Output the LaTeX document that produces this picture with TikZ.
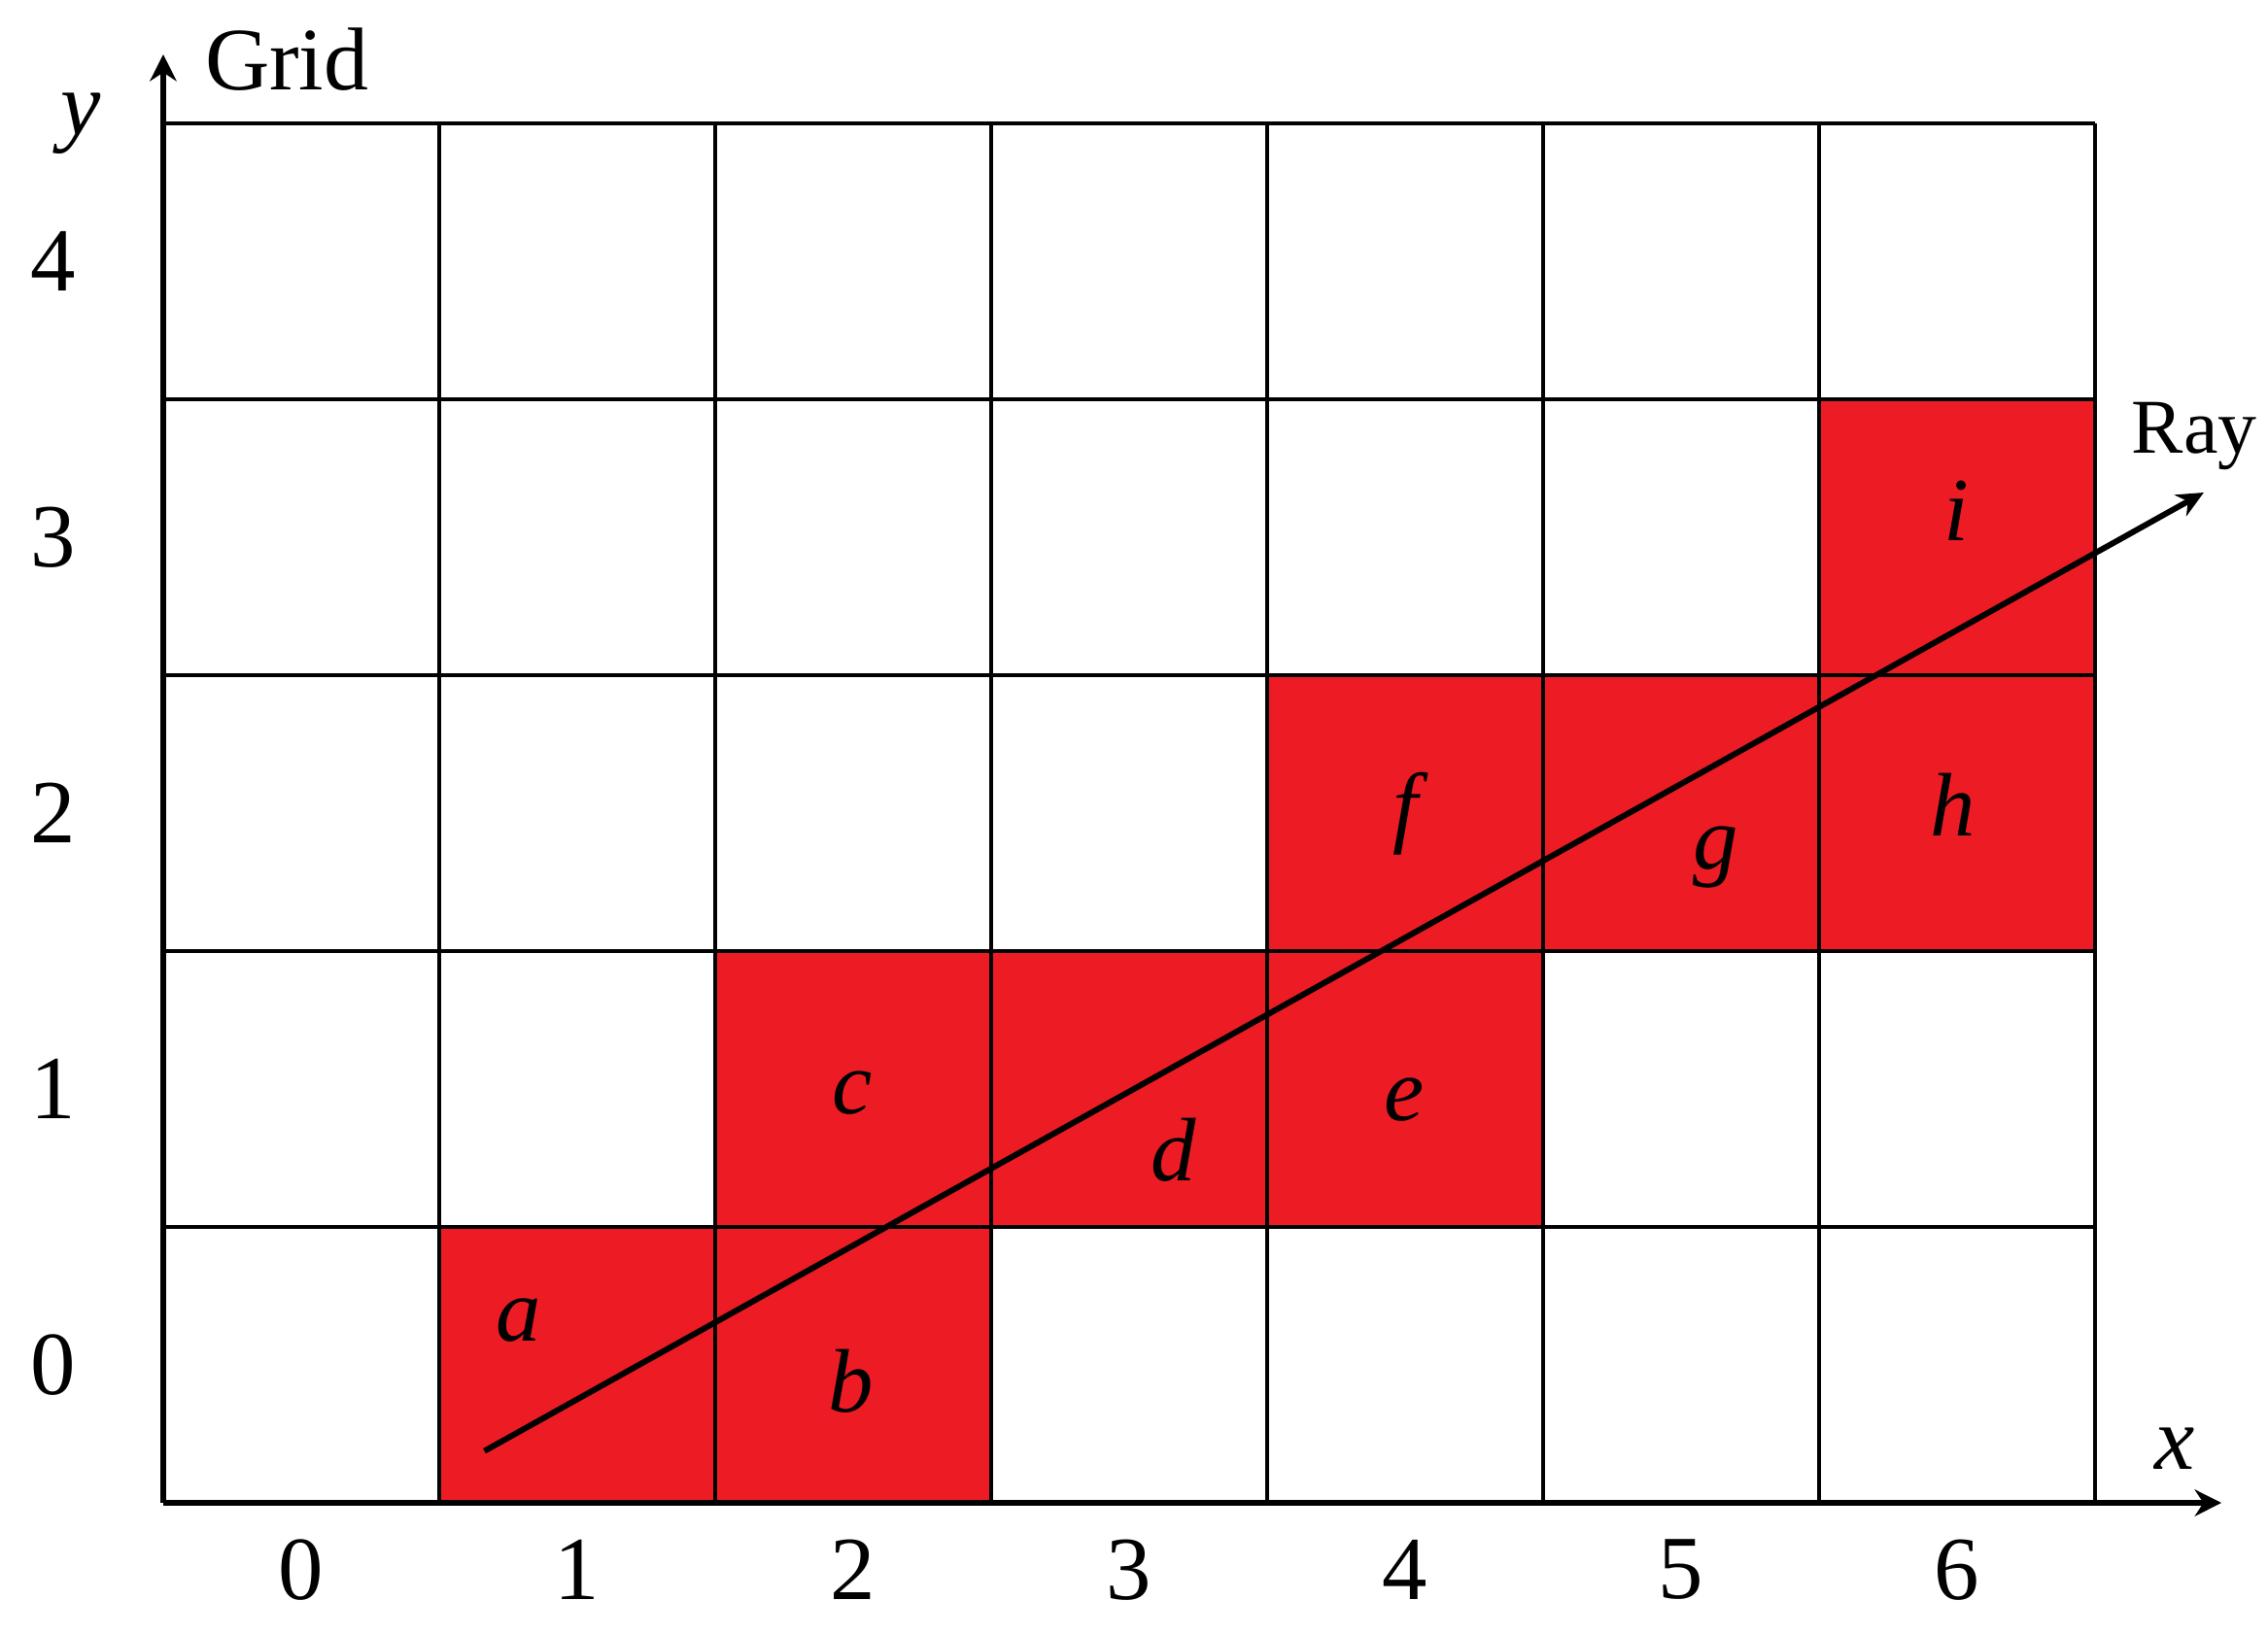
\documentclass[tikz,border=0pt]{standalone}
\usepackage{fontspec}
\setmainfont{Liberation Serif}
\usetikzlibrary{arrows.meta}
\definecolor{cellred}{RGB}{237,28,36}
\begin{document}
\begin{tikzpicture}[x=2cm,y=2cm,
  gridline/.style={line width=0.8pt, black},
  axisline/.style={line width=1.35pt, black, -{Stealth[length=5.5pt,width=5.5pt]}},
  rayline/.style={line width=1.2pt, black, -{Stealth[length=5.5pt,width=5pt]}},
  redcell/.style={fill=cellred, draw=none, minimum width=2cm, minimum height=2cm, inner sep=0pt, outer sep=0pt, anchor=south west},
  lbl/.style={inner sep=0pt, anchor=base, font=\fontsize{18.6}{22}\selectfont\itshape},
  num/.style={inner sep=0pt, anchor=center, font=\fontsize{18.6}{22}\selectfont}]
\useasboundingbox (-0.5915,-0.4718) rectangle (7.6268,5.4472);
% red cells
\node[redcell] (ca) at (1,0) {};
\node[redcell] (cb) at (2,0) {};
\node[redcell] (cc) at (2,1) {};
\node[redcell] (cd) at (3,1) {};
\node[redcell] (ce) at (4,1) {};
\node[redcell] (cf) at (4,2) {};
\node[redcell] (cg) at (5,2) {};
\node[redcell] (ch) at (6,2) {};
\node[redcell] (ci) at (6,3) {};
% grid
\draw[gridline, step=2cm] (0,0) grid (7,5);
% axes
\coordinate (O) at (0,0);
\coordinate (xend) at (7.458,0);
\coordinate (yend) at (0,5.25);
\draw[axisline] (O) -- (xend);
\draw[axisline] (O) -- (yend);
% ray
\coordinate (rs) at (1.164,0.188);
\coordinate (re) at (7.394,3.662);
\draw[rayline, line cap=butt] (rs) -- (re);
% cell labels
\node[lbl] (la) at (1.289,0.588) {a};
\node[lbl] (lb) at (2.493,0.331) {b};
\node[lbl] (lc) at (2.496,1.412) {c};
\node[lbl] (ld) at (3.662,1.169) {d};
\node[lbl] (le) at (4.496,1.387) {e};
\node[lbl] (lf) at (4.500,2.419) {f};
\node[lbl] (lg) at (5.627,2.296) {g};
\node[lbl] (lh) at (6.486,2.419) {h};
\node[lbl] (li) at (6.497,3.486) {i};
% axis labels
\node[lbl] (xl) at (7.289,0.120) {x};
\node[lbl] (yl) at (-0.300,4.958) {y};
\node[inner sep=0pt, anchor=base west, font=\fontsize{18.4}{22}\selectfont] (grid) at (0.148,5.120) {Grid};
\node[inner sep=0pt, anchor=base west, font=\fontsize{16}{19}\selectfont] (ray) at (7.130,3.806) {Ray};
% numbers
\foreach \i in {0,...,6} {
  \node[num] (xn\i) at (\i+0.5,-0.243) {\i};
}
\foreach \j in {0,...,4} {
  \node[num] (yn\j) at (-0.398,\j+0.5) {\j};
}
\end{tikzpicture}
\end{document}
